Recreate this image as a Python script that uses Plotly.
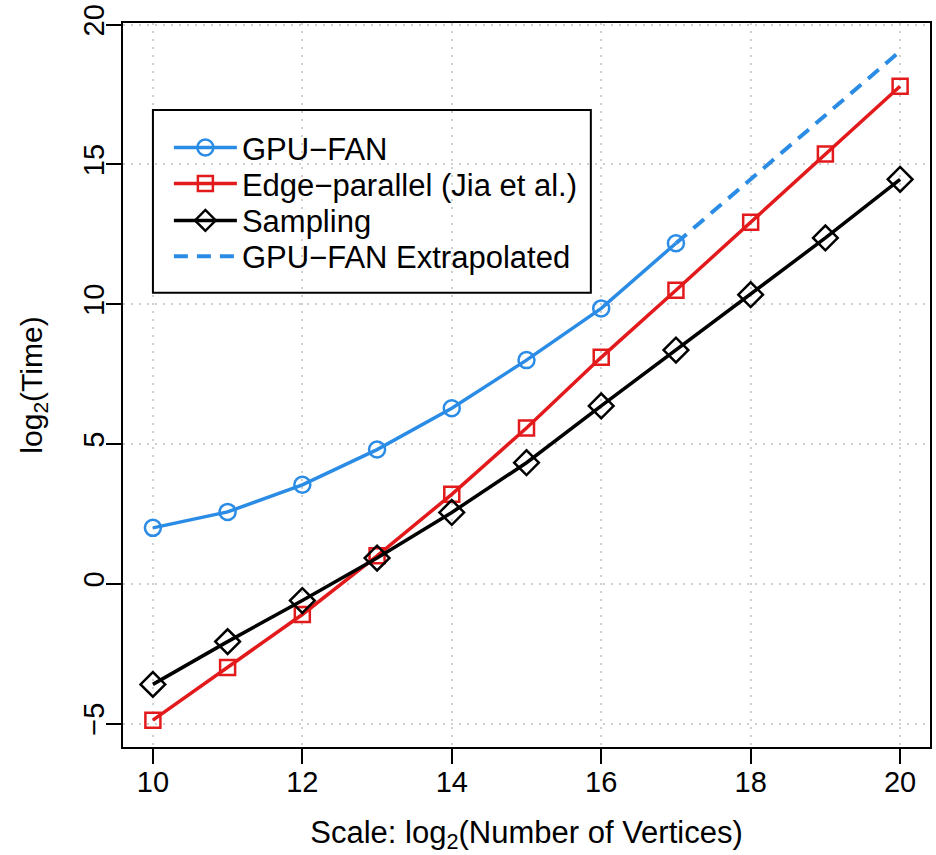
import plotly.graph_objects as go

scale = [10, 11, 12, 13, 14, 15, 16, 17, 18, 19, 20]
gpu_fan_x = [10, 11, 12, 13, 14, 15, 16, 17]
gpu_fan = [2.0, 2.57, 3.54, 4.8, 6.28, 8.0, 9.85, 12.18]
edge_parallel = [-4.88, -3.0, -1.1, 1.0, 3.2, 5.57, 8.1, 10.5, 12.93, 15.37, 17.8]
sampling = [-3.6, -2.07, -0.6, 0.92, 2.55, 4.33, 6.36, 8.36, 10.34, 12.37, 14.47]
extrap_x = [17, 20]
extrap = [12.18, 19.05]

series_names = ["GPU\u2212FAN", "Edge\u2212parallel (Jia et al.)", "Sampling", "GPU\u2212FAN Extrapolated"]
x_ticks = [10, 12, 14, 16, 18, 20]
y_ticks = [-5, 0, 5, 10, 15, 20]
x_range = [9.6, 20.4]
y_range = [-5.84, 20.06]

BLUE = "#2B8CE6"
RED = "#E31A1C"
BLACK = "#000000"
FONT = "Liberation Sans, Arial, sans-serif"

# plot-area geometry in pixels
L, R, T, B = 123, 932, 22, 747
W, H = 936, 855
def px_x(p):
    return (p - L) / (R - L)
def px_y(p):
    return 1 - (p - T) / (B - T)

fig = go.Figure()
fig.add_trace(go.Scatter(
    x=gpu_fan_x, y=gpu_fan, mode="lines+markers", name=series_names[0], legend="legend",
    line=dict(color=BLUE, width=3.5),
    marker=dict(symbol="circle-open", size=16, color=BLUE, line=dict(width=2.5, color=BLUE)),
))
fig.add_trace(go.Scatter(
    x=scale, y=edge_parallel, mode="lines+markers", name=series_names[1], legend="legend2",
    line=dict(color=RED, width=3.5),
    marker=dict(symbol="square-open", size=15, color=RED, line=dict(width=2.5, color=RED)),
))
fig.add_trace(go.Scatter(
    x=scale, y=sampling, mode="lines+markers", name=series_names[2], legend="legend3",
    line=dict(color=BLACK, width=3.5),
    marker=dict(symbol="diamond-open", size=19, color=BLACK, line=dict(width=2.5, color=BLACK)),
))
fig.add_trace(go.Scatter(
    x=extrap_x, y=extrap, mode="lines", name=series_names[3], legend="legend4",
    line=dict(color=BLUE, width=4, dash="14px,9px"),
))
# empty helper trace so the label-only overlay axes are drawn
fig.add_trace(go.Scatter(
    x=[], y=[], xaxis="x2", yaxis="y2", showlegend=False, hoverinfo="skip", mode="lines",
))

row_centers = [147, 183, 220, 256]
legend_common = dict(
    x=px_x(169), xanchor="left", yanchor="middle",
    bgcolor="rgba(0,0,0,0)", borderwidth=0,
    font=dict(size=31, family=FONT), itemwidth=63, tracegroupgap=0,
)
legends = {}
for i, yc in enumerate(row_centers):
    key = "legend" if i == 0 else f"legend{i+1}"
    legends[key] = dict(legend_common, y=px_y(yc))

grid = dict(showgrid=True, gridcolor="#cfcfcf", griddash="2px,6px", gridwidth=1.5, zeroline=False)

fig.update_layout(
    width=W, height=H,
    margin=dict(l=L, r=W - R, t=T, b=H - B),
    paper_bgcolor="white", plot_bgcolor="white",
    font=dict(family=FONT, size=29, color="black"),
    showlegend=True,
    **legends,
    shapes=[dict(
        type="rect", xref="paper", yref="paper",
        x0=px_x(153), x1=px_x(592), y0=px_y(292), y1=px_y(109),
        line=dict(color="black", width=2), fillcolor="rgba(0,0,0,0)", layer="above",
    )],
    # primary axes: box, ticks, grid and titles (no labels)
    xaxis=dict(
        range=x_range, tickvals=x_ticks, ticks="outside", ticklen=15, tickwidth=2,
        tickcolor="black", showline=True, linecolor="black", linewidth=2, mirror=True,
        showticklabels=False, **grid,
        title=dict(text="Scale: log<sub>2</sub>(Number of Vertices)", font=dict(size=31), standoff=58),
    ),
    yaxis=dict(
        range=y_range, tickvals=y_ticks, ticks="outside", ticklen=15, tickwidth=2,
        tickcolor="black", showline=True, linecolor="black", linewidth=2, mirror=True,
        showticklabels=False, **grid,
        title=dict(text="log<sub>2</sub>(Time)", font=dict(size=30), standoff=55),
    ),
    # overlay axes: tick labels only, placed closer to the box
    xaxis2=dict(
        range=x_range, tickvals=x_ticks, overlaying="x", anchor="y", side="bottom",
        ticks="", showline=False, showgrid=False, zeroline=False,
        tickfont=dict(size=29), ticklabelstandoff=15,
    ),
    yaxis2=dict(
        range=y_range, tickvals=y_ticks, overlaying="y", anchor="x", side="left",
        ticks="", showline=False, showgrid=False, zeroline=False,
        tickangle=-90, tickfont=dict(size=29), ticklabelstandoff=12,
    ),
)

fig.write_html("out.html")
